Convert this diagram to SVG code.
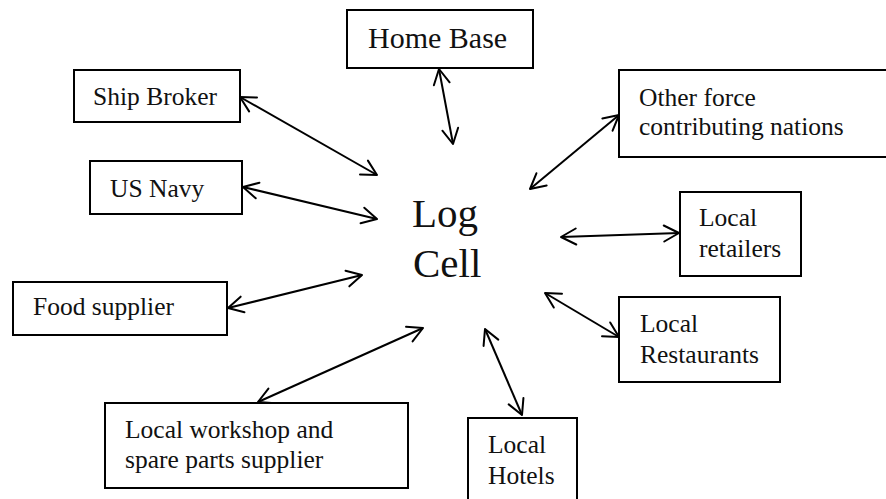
<svg xmlns="http://www.w3.org/2000/svg" width="886" height="499" viewBox="0 0 886 499">
  <style>
    .box { fill: #fff; stroke: #000; stroke-width: 2; }
    text { font-family: "Liberation Serif", "Times New Roman", serif; fill: #111; }
    .lbl { font-size: 25.5px; }
    .big { font-size: 30px; }
    .hub { font-size: 41px; }
    .link { stroke: #000; stroke-width: 2; fill: none; marker-start: url(#head); marker-end: url(#head); }
  </style>
  <defs>
    <!-- open V arrowhead, used at both ends of every link -->
    <marker id="head" markerUnits="userSpaceOnUse" viewBox="-18 -10 20 20" refX="0" refY="0" markerWidth="20" markerHeight="20" orient="auto-start-reverse">
      <path d="M -15 -8 L 0 0 L -15 8" fill="none" stroke="#000" stroke-width="2" stroke-linejoin="round" stroke-linecap="round"/>
    </marker>
  </defs>
  <rect width="886" height="499" fill="#fff"/>

  <!-- connectors: two-way links between the hub and each partner -->
  <g id="connectors">
    <line class="link" x1="439" y1="69" x2="453" y2="144"/>
    <line class="link" x1="240" y1="97" x2="377" y2="175"/>
    <line class="link" x1="243" y1="187" x2="377" y2="219"/>
    <line class="link" x1="228" y1="308" x2="362" y2="275"/>
    <line class="link" x1="258" y1="402" x2="423" y2="328"/>
    <line class="link" x1="485" y1="329" x2="522" y2="415"/>
    <line class="link" x1="545" y1="293" x2="619" y2="337"/>
    <line class="link" x1="561" y1="237" x2="679" y2="233"/>
    <line class="link" x1="530" y1="189" x2="619" y2="115"/>
  </g>

  <!-- central hub -->
  <g id="log-cell">
    <text class="hub" x="412" y="227">Log</text>
    <text class="hub" x="413" y="277">Cell</text>
  </g>

  <g id="home-base">
    <rect class="box" x="347" y="10" width="186" height="58"/>
    <text class="lbl big" x="368" y="48">Home Base</text>
  </g>

  <g id="ship-broker">
    <rect class="box" x="74" y="70" width="166" height="52"/>
    <text class="lbl" x="93" y="105">Ship Broker</text>
  </g>

  <g id="us-navy">
    <rect class="box" x="90" y="161" width="152" height="53"/>
    <text class="lbl" x="110" y="197">US Navy</text>
  </g>

  <g id="food-supplier">
    <rect class="box" x="13" y="282" width="214" height="53"/>
    <text class="lbl" x="33" y="315">Food supplier</text>
  </g>

  <g id="other-nations">
    <rect class="box" x="619" y="70" width="270" height="87"/>
    <text class="lbl" x="639" y="106">Other force</text>
    <text class="lbl" x="639" y="135">contributing nations</text>
  </g>

  <g id="local-retailers">
    <rect class="box" x="680" y="192" width="121" height="84"/>
    <text class="lbl" x="699" y="226">Local</text>
    <text class="lbl" x="699" y="257">retailers</text>
  </g>

  <g id="local-restaurants">
    <rect class="box" x="619" y="297" width="161" height="85"/>
    <text class="lbl" x="640" y="332">Local</text>
    <text class="lbl" x="640" y="363">Restaurants</text>
  </g>

  <g id="local-workshop">
    <rect class="box" x="105" y="403" width="303" height="85"/>
    <text class="lbl" x="125" y="438">Local workshop and</text>
    <text class="lbl" x="125" y="468">spare parts supplier</text>
  </g>

  <g id="local-hotels">
    <rect class="box" x="468" y="418" width="109" height="90"/>
    <text class="lbl" x="488" y="453">Local</text>
    <text class="lbl" x="488" y="484">Hotels</text>
  </g>
</svg>
